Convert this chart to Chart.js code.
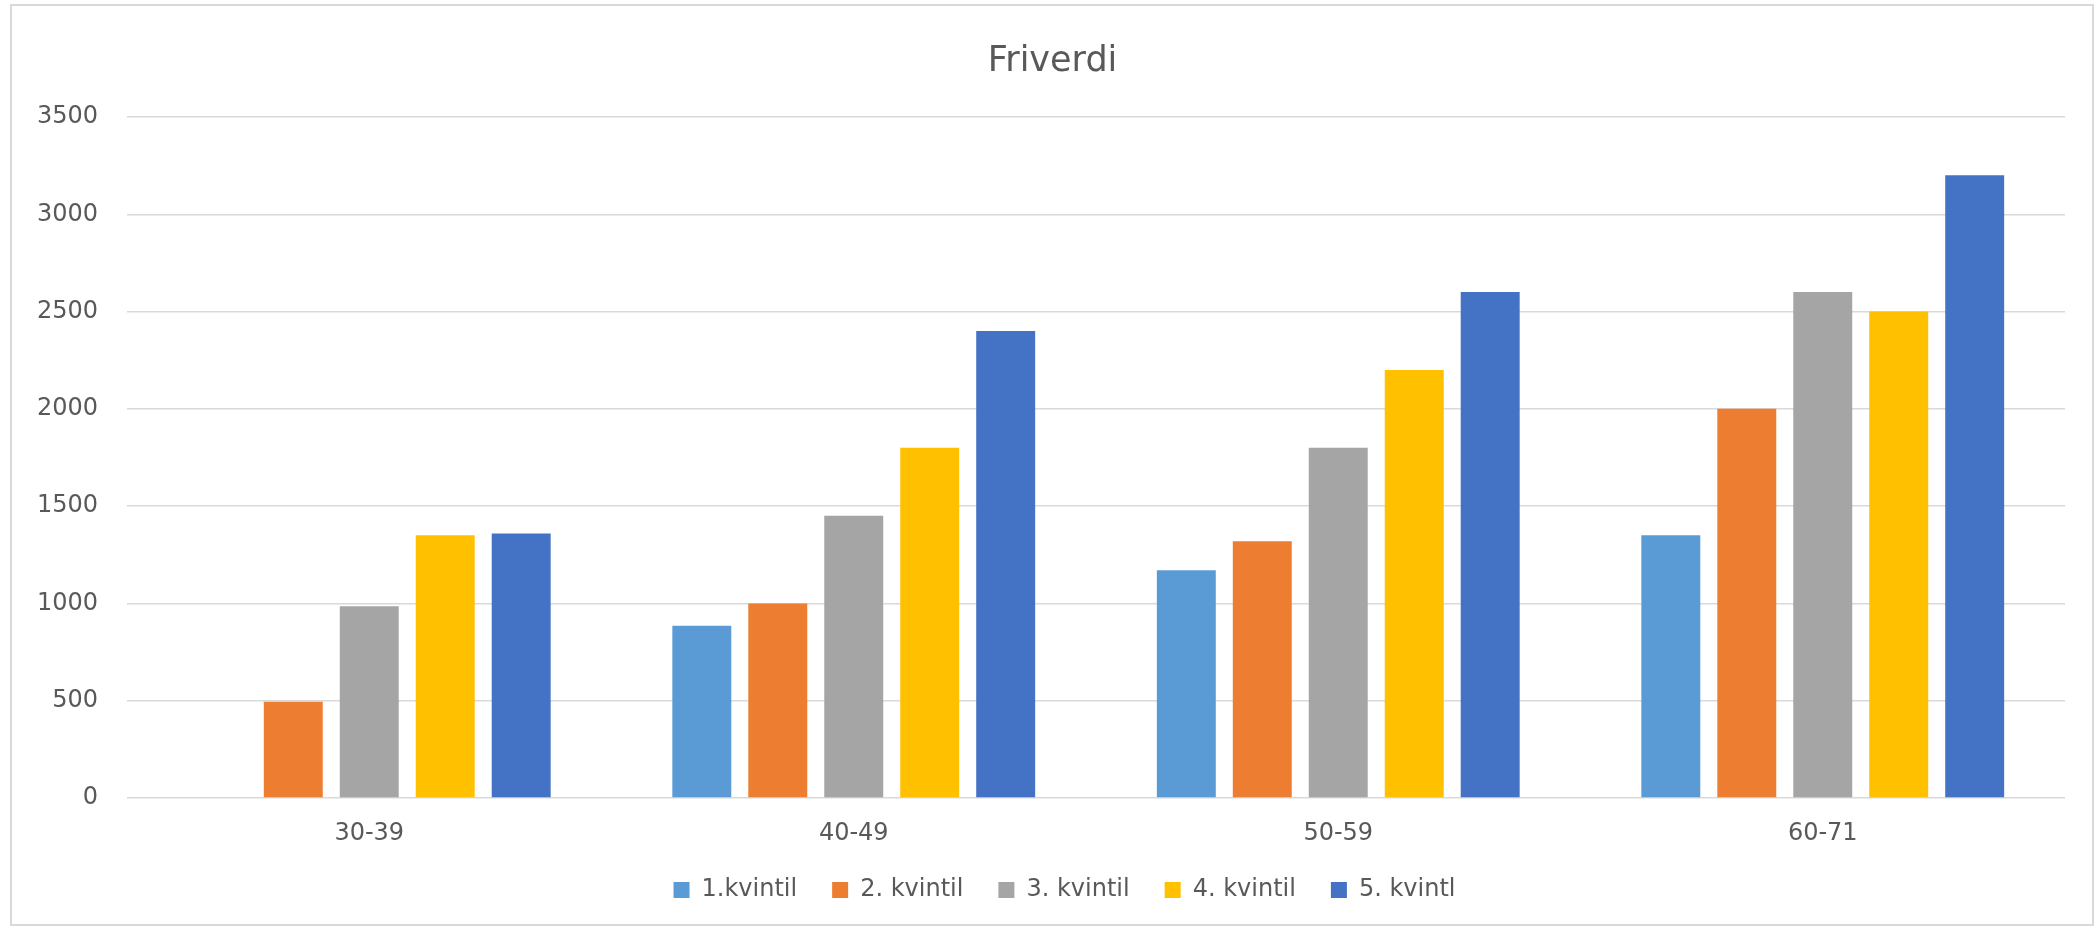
<!DOCTYPE html>
<html>
<head>
<meta charset="utf-8">
<script src="https://cdn.jsdelivr.net/npm/chart.js@4.4.0/dist/chart.umd.min.js"></script>
<style>
  html, body { margin: 0; padding: 0; background: #fff; }
  #wrap { position: relative; width: 2100px; height: 928px; }
  #frame {
    position: absolute; left: 10px; top: 4px; width: 2080px; height: 918px;
    border: 2px solid #d9d9d9; pointer-events: none;
  }
</style>
</head>
<body>
<div id="wrap">
  <canvas id="friverdi" width="2100" height="928"></canvas>
  <div id="frame"></div>
</div>
<script>
const ageGroups = ['30-39', '40-49', '50-59', '60-71'];
const seriesNames = ['1.kvintil', '2. kvintil', '3. kvintil', '4. kvintil', '5. kvintl'];
const kvintil1 = [null, 885, 1170, 1350];
const kvintil2 = [495, 1000, 1320, 2000];
const kvintil3 = [985, 1450, 1800, 2600];
const kvintil4 = [1350, 1800, 2200, 2500];
const kvintil5 = [1360, 2400, 2600, 3200];
const colors = ['#5B9BD5', '#ED7D31', '#A5A5A5', '#FFC000', '#4472C4'];

const allSeries = [kvintil1, kvintil2, kvintil3, kvintil4, kvintil5];
const font = 'DejaVu Sans';
const textColor = '#595959';

// title and legend sit a little right of the canvas centre in the original
const shiftBoxes = {
    id: 'shiftBoxes',
    afterLayout(chart) {
        if (chart.titleBlock) {
            chart.titleBlock.left += 20;
            chart.titleBlock.right += 20;
        }
        if (chart.legend) {
            chart.legend.left += 32;
            chart.legend.right += 32;
        }
    }
};

const ctx = document.getElementById('friverdi').getContext('2d');
new Chart(ctx, {
    type: 'bar',
    data: {
        labels: ageGroups,
        datasets: allSeries.map((values, i) => ({
            label: seriesNames[i],
            data: values,
            backgroundColor: colors[i],
            borderWidth: 0,
            categoryPercentage: 0.784,
            barPercentage: 0.776
        }))
    },
    options: {
        responsive: false,
        animation: false,
        layout: {
            padding: {left: 0, right: 35, top: 0, bottom: 16}
        },
        plugins: {
            title: {
                display: true,
                text: 'Friverdi',
                color: textColor,
                font: {family: font, size: 35, weight: 'normal'},
                padding: {top: 41, bottom: 34}
            },
            legend: {
                position: 'bottom',
                labels: {
                    color: textColor,
                    font: {family: font, size: 24},
                    boxWidth: 16,
                    boxHeight: 16,
                    padding: 35
                }
            },
            tooltip: {enabled: false}
        },
        scales: {
            x: {
                grid: {display: false, drawTicks: false},
                border: {display: false},
                ticks: {
                    color: textColor,
                    font: {family: font, size: 24},
                    padding: 21
                },
                afterFit: (scale) => { scale.height = 45; }
            },
            y: {
                min: 0,
                max: 3500,
                ticks: {
                    stepSize: 500,
                    color: textColor,
                    font: {family: font, size: 24},
                    padding: 29,
                    callback: (value) => String(value)
                },
                grid: {color: '#d9d9d9', lineWidth: 1.5, drawTicks: false},
                border: {display: false},
                afterFit: (scale) => { scale.width = 127; }
            }
        }
    },
    plugins: [shiftBoxes]
});
</script>
</body>
</html>
